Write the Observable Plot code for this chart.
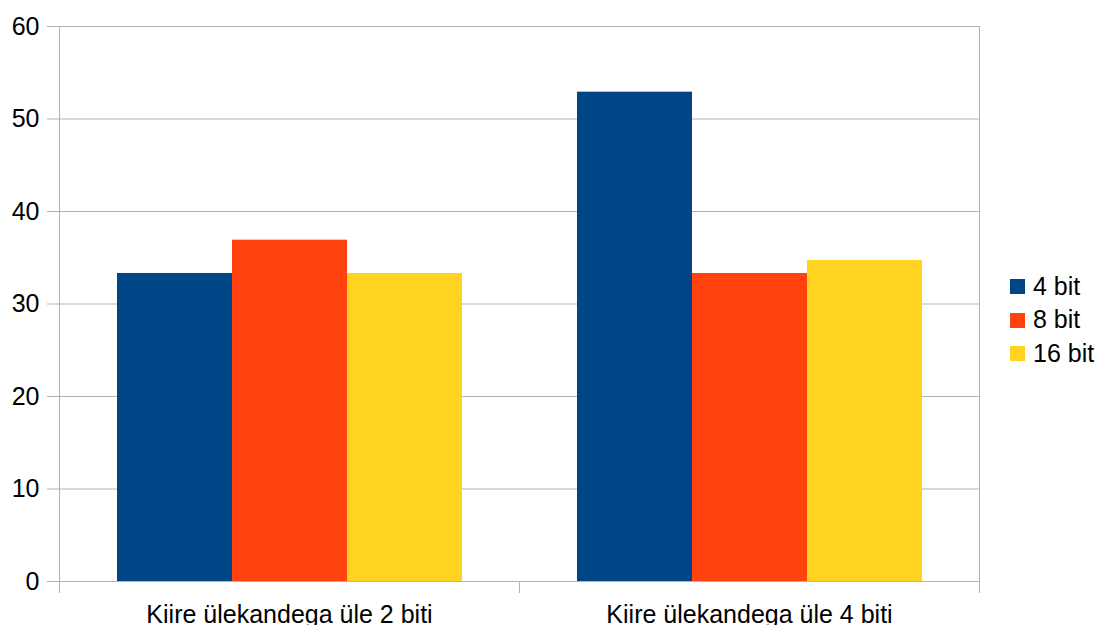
<!DOCTYPE html>
<html>
<head>
<meta charset="utf-8">
<script src="https://cdn.jsdelivr.net/npm/d3@7"></script>
<script src="https://cdn.jsdelivr.net/npm/@observablehq/plot@0.6"></script>
<style>
  html, body { margin: 0; padding: 0; background: #fff; }
  #wrap { position: relative; width: 1100px; height: 625px; overflow: hidden; font-family: "Liberation Sans", Arial, sans-serif; }
  #legend { position: absolute; left: 1010px; top: 269.6px; font-size: 25px; color: #000; }
  .row { position: relative; height: 33.5px; line-height: 33.5px; white-space: nowrap; }
  .sw { position: absolute; left: 0; top: 9.7px; width: 15px; height: 15px; }
  .lbl { position: absolute; left: 23px; top: 0; }
</style>
</head>
<body>
<div id="wrap"><div id="legend"></div></div>
<script>
// Categories and series
const groups = ["Kiire ülekandega üle 2 biti", "Kiire ülekandega üle 4 biti"];
const series = ["4 bit", "8 bit", "16 bit"];
const colors = ["#004586", "#ff420e", "#ffd320"];

// Values per series, one per category
const values4bit = [33.3, 52.9];
const values8bit = [36.9, 33.3];
const values16bit = [33.3, 34.7];

// Y axis ticks
const yTicks = [0, 10, 20, 30, 40, 50, 60];

const seriesValues = [values4bit, values8bit, values16bit];
const rows = [];
groups.forEach((g, gi) => {
  series.forEach((s, si) => rows.push({group: g, series: s, value: seriesValues[si][gi]}));
});

const W = 1100, H = 625;
const mTop = 26, mBottom = 44, mLeft = 59, mRight = 121;
const innerH = H - mTop - mBottom;
const gridColor = "#b3b3b3";

const chart = Plot.plot({
  width: W,
  height: H,
  marginTop: mTop,
  marginBottom: mBottom,
  marginLeft: mLeft,
  marginRight: mRight,
  style: {fontFamily: "'Liberation Sans', Arial, sans-serif", fontSize: "25px", color: "#000", background: "#fff", overflow: "visible"},
  fx: {domain: groups, padding: 0, label: null},
  x: {domain: series, paddingInner: 0, paddingOuter: 0.5, axis: null},
  y: {domain: [0, 60], label: null},
  color: {domain: series, range: colors},
  marks: [
    Plot.gridY(yTicks, {stroke: gridColor, strokeOpacity: 1}),
    // left and right axis lines, extended below the baseline as category ticks
    Plot.frame({anchor: "left", fx: groups[0], stroke: gridColor, strokeOpacity: 1, insetBottom: -11}),
    Plot.frame({anchor: "right", fx: groups[1], stroke: gridColor, strokeOpacity: 1, insetBottom: -11}),
    // category separator tick below the baseline
    Plot.frame({anchor: "left", fx: groups[1], stroke: gridColor, strokeOpacity: 1, insetTop: innerH, insetBottom: -11}),
    Plot.ruleY([0], {stroke: gridColor, strokeOpacity: 1}),
    Plot.barY(rows, {fx: "group", x: "series", y: "value", fill: "series"}),
    Plot.axisY(yTicks, {tickSize: 12, tickPadding: 8, stroke: gridColor, strokeOpacity: 1, fill: "#000", label: null, fontSize: 25}),
    Plot.axisFx({anchor: "bottom", tickSize: 0, tickPadding: 24, fill: "#000", label: null, fontSize: 25})
  ]
});

document.getElementById("wrap").prepend(chart);

// Legend on the right
const legend = document.getElementById("legend");
series.forEach((s, i) => {
  const row = document.createElement("div");
  row.className = "row";
  const sw = document.createElement("span");
  sw.className = "sw";
  sw.style.background = colors[i];
  const lbl = document.createElement("span");
  lbl.className = "lbl";
  lbl.textContent = s;
  row.append(sw, lbl);
  legend.append(row);
});
</script>
</body>
</html>
